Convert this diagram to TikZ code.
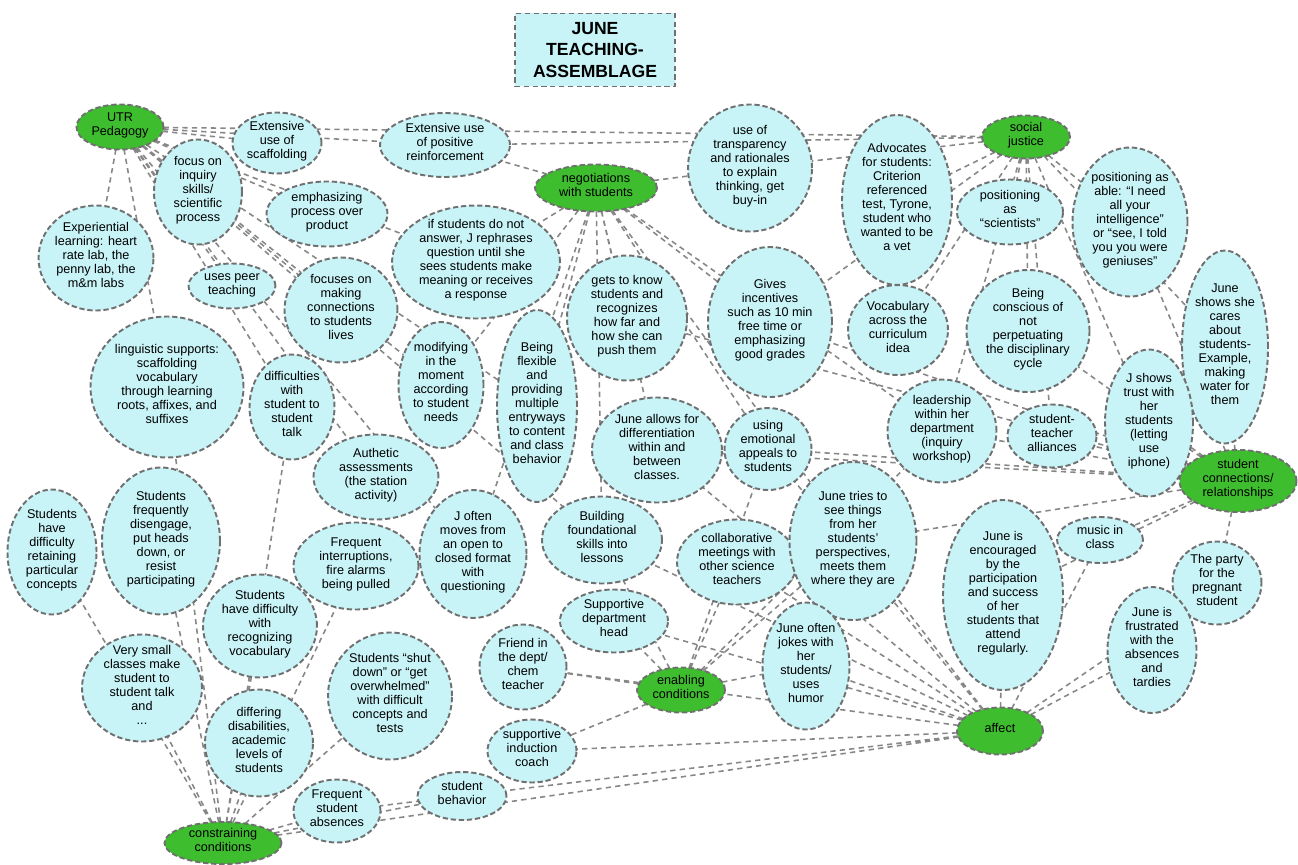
\documentclass[tikz,border=0pt]{standalone}
\usepackage{fontspec}
\setmainfont{Liberation Sans}
\usetikzlibrary{shapes.geometric,backgrounds}

\definecolor{ideafill}{RGB}{200,243,247}
\definecolor{hubfill}{RGB}{62,190,46}
\definecolor{rim}{RGB}{112,112,112}
\definecolor{wire}{RGB}{135,135,135}

% text of a node, kept out of the size of its ellipse
\newcommand{\ntext}[1]{\smash{\makebox[0pt]{\raisebox{-0.3ex}{\begin{tabular}{@{}c@{}}#1\end{tabular}}}}}

\begin{document}
\begin{tikzpicture}[
        x=0.02cm, y=-0.02cm,
        sz/.style 2 args={minimum width=#1*0.02cm, minimum height=#2*0.02cm},
        idea/.style={ellipse, draw=rim, fill=ideafill, line width=1.1pt,
            dash pattern=on 3pt off 1.6pt, inner sep=0pt, outer sep=0pt,
            font=\fontsize{7.2}{8}\selectfont},
        hub/.style={idea, fill=hubfill},
        banner/.style={draw=rim, fill=ideafill, rectangle, line width=0.9pt,
            dash pattern=on 3pt off 2pt, align=center, inner sep=0pt,
            font=\fontsize{10}{12}\selectfont\bfseries},
        link/.style={draw=wire, line width=0.9pt, dash pattern=on 3pt off 2.4pt}
    ]
    \useasboundingbox (0,0) rectangle (1298,865);

    \node [banner, sz={160}{73}] (banner) at (595,50) {JUNE\\TEACHING-\\ASSEMBLAGE};

    % hubs
    \node [hub, sz={87}{45}] (utr) at (120,127) {\ntext{UTR\\Pedagogy}};
    \node [hub, sz={122}{47}] (neg) at (596,188) {\ntext{negotiations\\with students}};
    \node [hub, sz={88}{43}] (soc) at (1026,137) {\ntext{social\\justice}};
    \node [hub, sz={117}{62}] (scr) at (1238,481) {\ntext{student\\connections/\\relationships}};
    \node [hub, sz={88}{45}] (enab) at (681,690) {\ntext{enabling\\conditions}};
    \node [hub, sz={86}{47}] (aff) at (1000,731) {\ntext{affect}};
    \node [hub, sz={117}{42}] (cons) at (223,843) {\ntext{constraining\\conditions}};

    % top row
    \node [idea, sz={89}{61}] (scaf) at (277,143) {\ntext{Extensive\\use of\\scaffolding}};
    \node [idea, sz={130}{64}] (reinf) at (445,145) {\ntext{Extensive use\\of positive\\reinforcement}};
    \node [idea, sz={124}{127}] (trans) at (750,168) {\ntext{use of\\transparency\\and rationales\\to explain\\thinking, get\\buy-in}};
    \node [idea, sz={110}{170}] (advoc) at (897,200) {\ntext{Advocates\\for students:\\Criterion\\referenced\\test, Tyrone,\\student who\\wanted to be\\a vet}};
    \node [idea, sz={106}{65}] (pscien) at (1010,212) {\ntext{positioning\\as\\``scientists''}};
    \node [idea, sz={115}{149}] (pable) at (1130,222) {\ntext{positioning as\\able: ``I need\\all your\\intelligence''\\or ``see, I told\\you you were\\geniuses''}};

    % second row
    \node [idea, sz={88}{105}] (inq) at (198,192) {\ntext{focus on\\inquiry\\skills/\\scientific\\process}};
    \node [idea, sz={121}{65}] (emph) at (327,214) {\ntext{emphasizing\\process over\\product}};
    \node [idea, sz={168}{113}] (ifstu) at (476,262) {\ntext{if students do not\\answer, J rephrases\\question until she\\sees students make\\meaning or receives\\a response}};
    \node [idea, sz={115}{105}] (exper) at (96,258) {\ntext{Experiential\\learning: heart\\rate lab, the\\penny lab, the\\m\&m labs}};
    \node [idea, sz={87}{45}] (peer) at (232,286) {\ntext{uses peer\\teaching}};
    \node [idea, sz={113}{105}] (conn) at (341,310) {\ntext{focuses on\\making\\connections\\to students\\lives}};
    \node [idea, sz={120}{125}] (know) at (627,318) {\ntext{gets to know\\students and\\recognizes\\how far and\\how she can\\push them}};
    \node [idea, sz={124}{150}] (incent) at (770,322) {\ntext{Gives\\incentives\\such as 10 min\\free time or\\emphasizing\\good grades}};
    \node [idea, sz={100}{90}] (vocab) at (898,330) {\ntext{Vocabulary\\across the\\curriculum\\idea}};
    \node [idea, sz={123}{122}] (consc) at (1028,331) {\ntext{Being\\conscious of\\not\\perpetuating\\the disciplinary\\cycle}};
    \node [idea, sz={86}{193}] (cares) at (1225,347) {\ntext{June\\shows she\\cares\\about\\students-\\Example,\\making\\water for\\them}};

    % middle row
    \node [idea, sz={153}{141}] (ling) at (167,387) {\ntext{linguistic supports:\\scaffolding\\vocabulary\\through learning\\roots, affixes, and\\suffixes}};
    \node [idea, sz={85}{105}] (talk) at (292,407) {\ntext{difficulties\\with\\student to\\student\\talk}};
    \node [idea, sz={85}{126}] (modif) at (441,385) {\ntext{modifying\\in the\\moment\\according\\to student\\needs}};
    \node [idea, sz={80}{192}] (flex) at (537,406) {\ntext{Being\\flexible\\and\\providing\\multiple\\entryways\\to content\\and class\\behavior}};
    \node [idea, sz={130}{105}] (diff) at (657,450) {\ntext{June allows for\\differentiation\\within and\\between\\classes.}};
    \node [idea, sz={87}{82}] (emot) at (768,449) {\ntext{using\\emotional\\appeals to\\students}};
    \node [idea, sz={109}{103}] (lead) at (942,431) {\ntext{leadership\\within her\\department\\(inquiry\\workshop)}};
    \node [idea, sz={89}{63}] (alli) at (1052,436) {\ntext{student-\\teacher\\alliances}};
    \node [idea, sz={88}{147}] (trust) at (1149,423) {\ntext{J shows\\trust with\\her\\students\\(letting\\use\\iphone)}};
    \node [idea, sz={125}{85}] (auth) at (376,477) {\ntext{Authetic\\assessments\\(the station\\activity)}};

    % lower rows
    \node [idea, sz={89}{125}] (retain) at (52,552) {\ntext{Students\\have\\difficulty\\retaining\\particular\\concepts}};
    \node [idea, sz={118}{147}] (diseng) at (161,541) {\ntext{Students\\frequently\\disengage,\\put heads\\down, or\\resist\\participating}};
    \node [idea, sz={125}{87}] (interr) at (356,566) {\ntext{Frequent\\interruptions,\\fire alarms\\being pulled}};
    \node [idea, sz={107}{128}] (jopen) at (473,554) {\ntext{J often\\moves from\\an open to\\closed format\\with\\questioning}};
    \node [idea, sz={120}{87}] (build) at (602,540) {\ntext{Building\\foundational\\skills into\\lessons}};
    \node [idea, sz={120}{85}] (collab) at (737,562) {\ntext{collaborative\\meetings with\\other science\\teachers}};
    \node [idea, sz={127}{158}] (tries) at (853,541) {\ntext{June tries to\\see things\\from her\\students'\\perspectives,\\meets them\\where they are}};
    \node [idea, sz={120}{190}] (encour) at (1003,595) {\ntext{June is\\encouraged\\by the\\participation\\and success\\of her\\students that\\attend\\regularly.}};
    \node [idea, sz={86}{46}] (music) at (1100,540) {\ntext{music in\\class}};
    \node [idea, sz={89}{83}] (party) at (1217,583) {\ntext{The party\\for the\\pregnant\\student}};
    \node [idea, sz={89}{126}] (frustr) at (1152,650) {\ntext{June is\\frustrated\\with the\\absences\\and\\tardies}};
    \node [idea, sz={114}{103}] (vdiff) at (260,626) {\ntext{Students\\have difficulty\\with\\recognizing\\vocabulary}};
    \node [idea, sz={120}{107}] (small) at (142,688) {\ntext{Very small\\classes make\\student to\\student talk\\and\\...}};
    \node [idea, sz={124}{127}] (shut) at (390,696) {\ntext{Students ``shut\\down'' or ``get\\overwhelmed''\\with difficult\\concepts and\\tests}};
    \node [idea, sz={108}{107}] (disab) at (259,743) {\ntext{differing\\disabilities,\\academic\\levels of\\students}};
    \node [idea, sz={87}{63}] (absen) at (337,811) {\ntext{Frequent\\student\\absences}};
    \node [idea, sz={89}{48}] (behav) at (462,796) {\ntext{student\\behavior}};
    \node [idea, sz={89}{63}] (coach) at (532,751) {\ntext{supportive\\induction\\coach}};
    \node [idea, sz={87}{85}] (friend) at (523,667) {\ntext{Friend in\\the dept/\\chem\\teacher}};
    \node [idea, sz={108}{63}] (head) at (614,621) {\ntext{Supportive\\department\\head}};
    \node [idea, sz={87}{127}] (jokes) at (806,666) {\ntext{June often\\jokes with\\her\\students/\\uses\\humor}};

    \begin{scope}[on background layer]
        \draw [link] (utr) -- (scaf) (utr) -- (reinf) (utr) -- (soc) (utr) -- (inq)
            (utr) -- (emph) (utr) -- (ifstu) (utr) -- (exper) (utr) -- (peer)
            (utr) -- (conn) (utr) -- (ling) (utr) -- (modif) (utr) -- (flex)
            (utr) -- (auth) (utr) -- (jopen) (utr) -- (build) (utr) -- (talk);
        \draw [link] (neg) -- (reinf) (neg) -- (trans) (neg) -- (ifstu) (neg) -- (know)
            (neg) -- (incent) (neg) -- (flex) (neg) -- (modif) (neg) -- (diff)
            (neg) -- (emot) (neg) -- (build) (neg) -- (jopen) (neg) -- (tries)
            (neg) -- (lead);
        \draw [link] (soc) -- (advoc) (soc) -- (pscien) (soc) -- (pable) (soc) -- (consc)
            (soc) -- (vocab) (soc) -- (lead) (soc) -- (cares) (soc) -- (trans)
            (soc) -- (incent) (soc) -- (alli) (soc) -- (trust) (soc) -- (reinf);
        \draw [link] (scr) -- (cares) (scr) -- (trust) (scr) -- (alli) (scr) -- (music)
            (scr) -- (party) (scr) -- (tries) (scr) -- (encour) (scr) -- (lead)
            (scr) -- (emot) (scr) -- (diff) (scr) -- (consc) (scr) -- (pable)
            (scr) -- (incent) (scr) -- (know);
        \draw [link] (aff) -- (encour) (aff) -- (frustr) (aff) -- (music) (aff) -- (party)
            (aff) -- (jokes) (aff) -- (tries) (aff) -- (collab) (aff) -- (coach)
            (aff) -- (absen) (aff) -- (emot) (aff) -- (head) (aff) -- (friend)
            (aff) -- (build) (aff) -- (diff) (aff) -- (cons);
        \draw [link] (enab) -- (head) (enab) -- (friend) (enab) -- (coach) (enab) -- (collab)
            (enab) -- (jokes) (enab) -- (lead) (enab) -- (build) (enab) -- (tries)
            (enab) -- (emot);
        \draw [link] (cons) -- (retain) (cons) -- (diseng) (cons) -- (small) (cons) -- (vdiff)
            (cons) -- (disab) (cons) -- (shut) (cons) -- (absen) (cons) -- (interr)
            (cons) -- (talk) (cons) -- (behav) (cons) -- (ling);
    \end{scope}

\end{tikzpicture}
\end{document}
